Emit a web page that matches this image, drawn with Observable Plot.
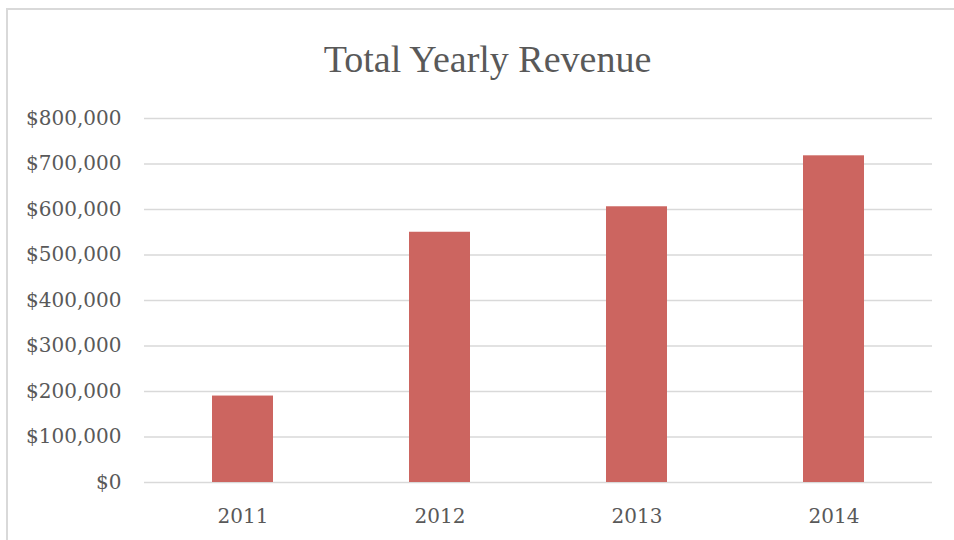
<!DOCTYPE html>
<html>
<head>
<meta charset="utf-8">
<script src="https://cdn.jsdelivr.net/npm/d3@7"></script>
<script src="https://cdn.jsdelivr.net/npm/@observablehq/plot@0.6"></script>
<style>
  html, body { margin: 0; padding: 0; background: #fff; overflow: hidden; }
  #wrap { position: relative; width: 954px; height: 540px; overflow: hidden; }
  #frame { position: absolute; left: 6px; top: 8px; width: 1000px; height: 600px;
           border-top: 2px solid #d9d9d9; border-left: 2px solid #d9d9d9; box-sizing: border-box; }
  #title { position: absolute; left: 0; top: 40px; width: 975px; text-align: center;
           font-family: "Liberation Serif", serif; font-size: 38px; line-height: 38px; color: #595959; }
  #chart { position: absolute; left: 0; top: 0; }
</style>
</head>
<body>
<div id="wrap">
  <div id="frame"></div>
  <div id="title">Total Yearly Revenue</div>
  <div id="chart"></div>
</div>
<script>
const years = ["2011", "2012", "2013", "2014"];
const revenue = [190000, 550000, 606000, 718000];
const yTicks = [0, 100000, 200000, 300000, 400000, 500000, 600000, 700000, 800000];

const data = years.map((y, i) => ({year: y, revenue: revenue[i]}));
const fmt = d3.format(",");

const chart = Plot.plot({
  width: 954,
  height: 540,
  marginTop: 118,
  marginBottom: 58,
  marginLeft: 144,
  marginRight: 22,
  style: {fontFamily: "DejaVu Serif", fontSize: "20px", color: "#595959", background: "transparent", overflow: "visible"},
  x: {domain: years, paddingInner: 0.69, paddingOuter: 0.345, label: null, tickSize: 0, tickPadding: 26},
  y: {domain: [0, 800000], ticks: yTicks, tickFormat: d => "$" + fmt(d), label: null, tickSize: 0, tickPadding: 23},
  marks: [
    Plot.ruleY(yTicks, {stroke: "#d9d9d9", strokeWidth: 1.5}),
    Plot.barY(data, {x: "year", y: "revenue", fill: "#cc6560"})
  ]
});
document.getElementById("chart").appendChild(chart);
</script>
</body>
</html>
